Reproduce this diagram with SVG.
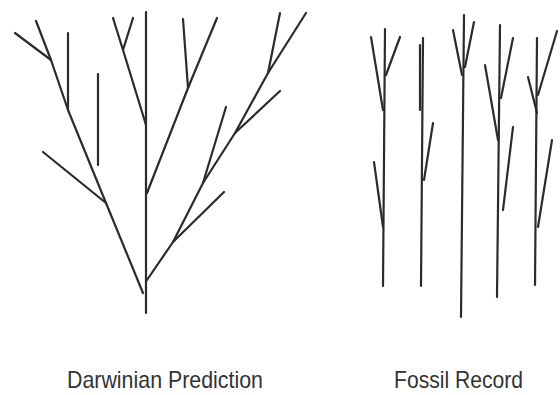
<svg xmlns="http://www.w3.org/2000/svg" width="560" height="395" viewBox="0 0 560 395">
<style>
.b{fill:none;stroke:#2b2b2b;stroke-width:2.2;stroke-linecap:round;stroke-linejoin:round}
.t{font-family:"Liberation Sans",Arial,sans-serif;font-size:24px;fill:#333}
</style>
<rect width="560" height="395" fill="#fff"/>
<g id="darwinian-tree">
<path class="b" d="M146,12 L146,313"/>
<path class="b" d="M143,293 L106,203 L68,110 L51,60 L36,21"/>
<path class="b" d="M51,60 L15,33"/>
<path class="b" d="M68,33 L68,110"/>
<path class="b" d="M106,203 L43,152"/>
<path class="b" d="M98,74 L98,165"/>
<path class="b" d="M146,125 L123,50 L113,18"/>
<path class="b" d="M123,50 L133,18"/>
<path class="b" d="M147,193 L188,88 L217,18"/>
<path class="b" d="M183,19 L188,88"/>
<path class="b" d="M147,280 L173,242 L203,183 L235,133 L268,73 L306,13"/>
<path class="b" d="M173,242 L224,192"/>
<path class="b" d="M203,183 L226,107"/>
<path class="b" d="M235,133 L280,91"/>
<path class="b" d="M268,73 L280,13"/>
</g>
<g id="fossil-record">
<path class="b" d="M383,286 L385,29"/>
<path class="b" d="M383,110 L371,37"/>
<path class="b" d="M386,75 L400,37"/>
<path class="b" d="M383,227 L374,162"/>
<path class="b" d="M421,286 L423,38"/>
<path class="b" d="M420,45 L420,110"/>
<path class="b" d="M424,180 L433,123"/>
<path class="b" d="M461,317 L464,15"/>
<path class="b" d="M462,75 L453,30"/>
<path class="b" d="M465,67 L474,22"/>
<path class="b" d="M497,297 L500,25"/>
<path class="b" d="M498,140 L485,65"/>
<path class="b" d="M501,98 L513,38"/>
<path class="b" d="M503,210 L513,127"/>
<path class="b" d="M535,285 L537,38"/>
<path class="b" d="M537,113 L528,77"/>
<path class="b" d="M538,95 L557,31"/>
<path class="b" d="M538,227 L552,140"/>
</g>
<g id="labels">
<text class="t" x="67" y="388" textLength="196" lengthAdjust="spacingAndGlyphs">Darwinian Prediction</text>
<text class="t" x="394" y="388" textLength="129" lengthAdjust="spacingAndGlyphs">Fossil Record</text>
</g>
</svg>
